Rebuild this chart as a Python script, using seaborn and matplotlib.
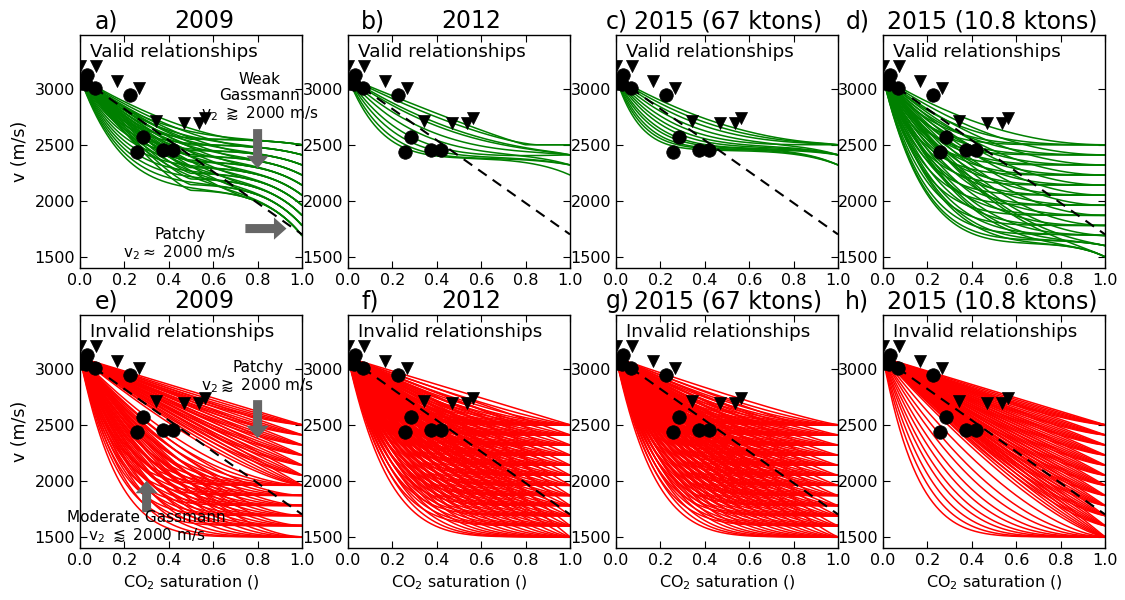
import numpy as np
import pandas as pd
import matplotlib
matplotlib.use("Agg")
import matplotlib.pyplot as plt
import seaborn as sns
from itertools import product

# ---------------- data ----------------
V_START = 3100                      # velocity at zero CO2 saturation (m/s)
END_LEVELS = [2500, 2410, 2320, 2230, 2140, 2050, 1960, 1870, 1780, 1690, 1600, 1500]

# observations (same in every panel)
circle_sat = [0.005, 0.025, 0.03, 0.068, 0.224, 0.285, 0.255, 0.376, 0.417]
circle_vel = [3050, 3045, 3127, 3005, 2940, 2565, 2440, 2450, 2457]
tri_sat = [0.0, 0.071, 0.167, 0.268, 0.344, 0.47, 0.538, 0.565]
tri_vel = [3201, 3201, 3068, 3003, 2711, 2691, 2691, 2735]
dash_sat = [0.0, 1.0]
dash_vel = [3100, 1700]

# panel a (2009, valid): plateau/end pairs x shapes
a_plateau = [2550, 2500, 2450, 2400, 2350, 2300, 2250, 2200, 2150, 2100]
a_end = [2500, 2410, 2320, 2230, 2140, 2050, 1960, 1870, 1780, 1690]
a_knee = [0.5, 0.75, 1.0, 1.0]
a_power = [1.3, 1.6, 3.0, 5.5]

# panel b (2012, valid): one entry per curve
b_plateau = [2500, 2500, 2480, 2460, 2440, 2420, 2400, 2390, 2380, 2380]
b_end = [2500, 2500, 2410, 2410, 2410, 2320, 2410, 2320, 2320, 2230]
b_knee = [0.8, 0.85, 0.9, 1, 1, 1, 1, 1, 1, 1]
b_power = [1.1, 1.4, 1.8, 2.2, 2.8, 3.4, 4.2, 5.0, 6.0, 7.0]

# panel c (2015, 67 ktons, valid): one entry per curve
c_plateau = [2540, 2530, 2520, 2510, 2500, 2490, 2480, 2470, 2470, 2460, 2460, 2450]
c_end = [2500, 2500, 2500, 2410, 2500, 2410, 2410, 2410, 2320, 2410, 2320, 2320]
c_knee = [0.9, 0.95, 1, 1, 1, 1, 1, 1, 1, 1, 1, 1]
c_power = [1.8, 2.2, 2.7, 3.2, 3.8, 4.4, 5.0, 5.8, 6.6, 7.5, 8.5, 9.5]

# panel d (2015, 10.8 ktons, valid): plateau/end pairs x shapes
d_plateau = [2500, 2410, 2320, 2230, 2140, 2050, 1960, 1870, 1780, 1700, 1650, 1620]
d_end = END_LEVELS
d_power = [2.0, 3.0, 4.2, 5.5]

# invalid panels: end velocity x Brie-like exponent
e_end_patchy = [2500, 2410, 2320, 2230, 2140, 2050, 1960]
e_pow_patchy = [1.0, 1.1, 1.2, 1.3, 1.4]
e_end_gass = [1960, 1870, 1780, 1690, 1600, 1500]
e_pow_gass = [1.75, 2.0, 2.3, 2.7, 3.1, 3.6, 4.2, 5.0, 6.0]
f_pow = [1.0, 1.2, 1.4, 1.6, 1.8, 2.05, 2.3, 2.6, 2.9, 3.25, 3.6, 4.0, 4.5, 5.0, 5.6]
g_pow = [1.15, 1.35, 1.55, 1.75, 1.95, 2.2, 2.45, 2.75, 3.05, 3.4, 3.8, 4.2, 4.7, 5.2, 5.8]
h_pow_patchy = [1.0, 1.07, 1.14, 1.21, 1.28, 1.36]
h_end_gass = [1500]
h_pow_gass = [1.6, 1.9, 2.2, 2.6, 3.0, 3.5, 4.0, 4.7, 5.5, 6.5]

# ---------------- curve tables ----------------
SAT = np.linspace(0, 1, 201)


def curve(plateau, end, knee, power, late):
    s = np.clip(SAT / knee, 0, 1)
    return plateau + (V_START - plateau) * (1 - s) ** power + (end - plateau) * SAT ** late


def table(specs, late):
    rows = []
    for i, (p, e, k, b) in enumerate(specs):
        rows.append(pd.DataFrame({"sat": SAT, "vel": curve(p, e, k, b, late), "curve": i}))
    return pd.concat(rows, ignore_index=True)


specs = {}
specs["a"] = table([(p, e, k, b) for (p, e), (k, b) in
                    product(zip(a_plateau, a_end), zip(a_knee, a_power))], 6)
specs["b"] = table(list(zip(b_plateau, b_end, b_knee, b_power)), 6)
specs["c"] = table(list(zip(c_plateau, c_end, c_knee, c_power)), 6)
specs["d"] = table([(p, e, 1.0, b) for (p, e), b in product(zip(d_plateau, d_end), d_power)], 8)
specs["e"] = table([(e, e, 1.0, b) for e, b in product(e_end_patchy, e_pow_patchy)] +
                   [(e, e, 1.0, b) for e, b in product(e_end_gass, e_pow_gass)], 6)
specs["f"] = table([(e, e, 1.0, b) for e, b in product(END_LEVELS, f_pow)], 6)
specs["g"] = table([(e, e, 1.0, b) for e, b in product(END_LEVELS, g_pow)], 6)
specs["h"] = table([(e, e, 1.0, b) for e, b in product(END_LEVELS, h_pow_patchy)] +
                   [(e, e, 1.0, b) for e, b in product(h_end_gass, h_pow_gass)], 6)

labels = ["a)", "b)", "c)", "d)", "e)", "f)", "g)", "h)"]
years = ["2009", "2012", "2015 (67 ktons)", "2015 (10.8 ktons)"] * 2
label_x = [0.068, 0.06, -0.045, -0.17, 0.065, 0.06, -0.045, -0.17]
year_x = [0.56, 0.555, 0.505, 0.49, 0.56, 0.555, 0.505, 0.49]

# ---------------- figure ----------------
sns.set_style("ticks")
plt.rcParams.update({
    "font.family": ["DejaVu Sans"],
    "text.color": "black", "axes.labelcolor": "black",
    "xtick.color": "black", "ytick.color": "black",
    "xtick.direction": "in", "ytick.direction": "in",
    "xtick.top": True, "ytick.right": True,
    "xtick.major.size": 5, "ytick.major.size": 5,
    "axes.edgecolor": "black", "axes.linewidth": 1.0,
    "xtick.labelsize": 11.5, "ytick.labelsize": 11.5,
})

fig = plt.figure(figsize=(11.25, 6), dpi=100)
lefts = [80, 348, 616, 883]
tops = [35, 315]
W, H = 222, 233

keys = list("abcdefgh")
for idx, key in enumerate(keys):
    r, c = divmod(idx, 4)
    ax = fig.add_axes([lefts[c] / 1125, 1 - (tops[r] + H) / 600, W / 1125, H / 600])
    color = "green" if r == 0 else "red"
    sns.lineplot(data=specs[key], x="sat", y="vel", units="curve", estimator=None,
                 color=color, lw=1.1, sort=False, legend=False, ax=ax)
    ax.plot(dash_sat, dash_vel, color="k", lw=1.5, ls=(0, (5, 3.5)), zorder=4)
    sns.scatterplot(x=tri_sat, y=tri_vel, marker="v", s=75, color="k", edgecolor="k",
                    linewidth=0.5, zorder=5, ax=ax, legend=False)
    sns.scatterplot(x=circle_sat, y=circle_vel, marker="o", s=95, color="k", edgecolor="k",
                    linewidth=0.5, zorder=6, ax=ax, legend=False)
    ax.set_xlim(0, 1)
    ax.set_ylim(1400, 3480)
    ax.set_xticks([0, 0.2, 0.4, 0.6, 0.8, 1.0])
    ax.set_yticks([1500, 2000, 2500, 3000])
    ax.set_xticklabels(["0.0", "0.2", "0.4", "0.6", "0.8", "1.0"])
    ax.set_xlabel("CO$_2$ saturation ()" if r == 1 else "", fontsize=11.5)
    ax.set_ylabel("v (m/s)" if c == 0 else "", fontsize=12.5)
    ax.text(label_x[idx], 1.03, labels[idx], transform=ax.transAxes, fontsize=17,
            ha="left", va="baseline")
    ax.text(year_x[idx], 1.03, years[idx], transform=ax.transAxes, fontsize=17,
            ha="center", va="baseline")
    ax.text(0.045, 0.905, "Valid relationships" if r == 0 else "Invalid relationships",
            transform=ax.transAxes, fontsize=13.2, ha="left", va="baseline")

    arrow = dict(facecolor="0.4", edgecolor="none", width=6.5, headwidth=16, headlength=9)
    if key == "a":
        ax.text(0.81, 2920, "Weak\nGassmann\nv$_2$ $\\gtrapprox$ 2000 m/s", ha="center",
                va="center", fontsize=11, linespacing=1.1)
        ax.annotate("", xy=(0.8, 2290), xytext=(0.8, 2640), arrowprops=arrow)
        ax.annotate("", xy=(0.93, 1752), xytext=(0.745, 1752), arrowprops=arrow)
        ax.text(0.45, 1612, "Patchy\nv$_2$$\\approx$ 2000 m/s", ha="center", va="center",
                fontsize=11, linespacing=1.1)
    if key == "e":
        ax.text(0.8, 2920, "Patchy\nv$_2$$\\gtrapprox$ 2000 m/s", ha="center", va="center",
                fontsize=11, linespacing=1.1)
        ax.annotate("", xy=(0.8, 2380), xytext=(0.8, 2720), arrowprops=arrow)
        ax.annotate("", xy=(0.3, 2000), xytext=(0.3, 1720), arrowprops=arrow)
        ax.text(0.3, 1582, "Moderate Gassmann\nv$_2$ $\\lessapprox$ 2000 m/s", ha="center",
                va="center", fontsize=11, linespacing=1.1)

fig.savefig("out.png", dpi=100)
